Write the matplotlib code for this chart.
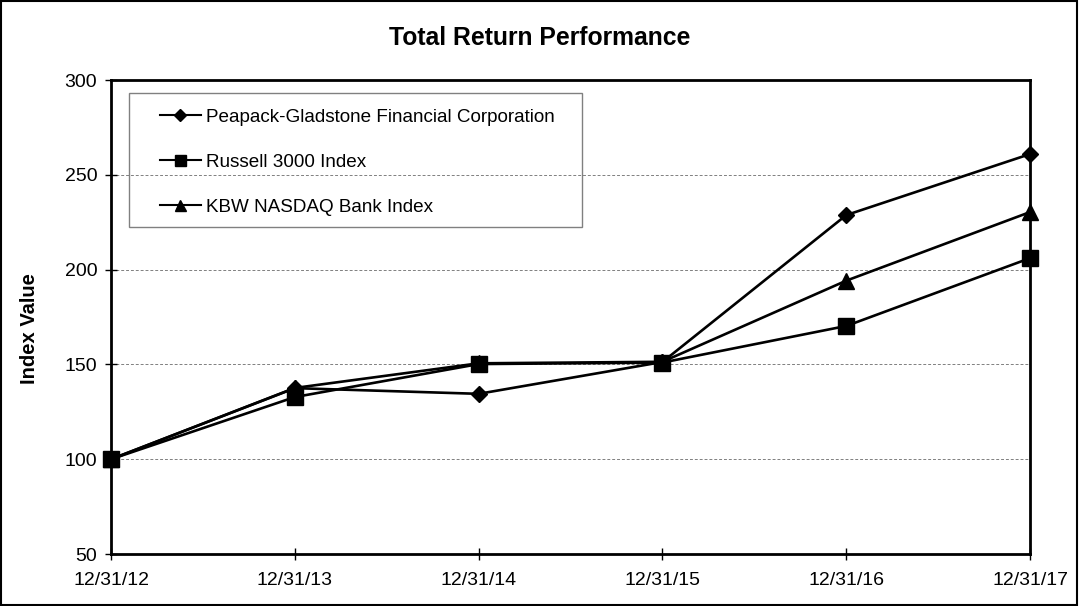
import matplotlib.pyplot as plt
from matplotlib.patches import Rectangle

plt.rcParams["font.family"] = ["Liberation Sans", "DejaVu Sans"]

dates = ["12/31/12", "12/31/13", "12/31/14", "12/31/15", "12/31/16", "12/31/17"]
peapack = [100, 137.5, 134.5, 151.3, 228.8, 261.0]
russell = [100, 132.8, 150.2, 151.0, 170.3, 206.1]
kbw = [100, 137.6, 150.6, 151.4, 194.2, 230.4]

series = [
    ("Peapack-Gladstone Financial Corporation", peapack, "D", 8),
    ("Russell 3000 Index", russell, "s", 11),
    ("KBW NASDAQ Bank Index", kbw, "^", 11),
]

fig = plt.figure(figsize=(10.8, 6.06), dpi=100)
ax = fig.add_axes([0.1028, 0.0858, 0.851, 0.782])

x = list(range(len(dates)))
for label, values, marker, size in series:
    ax.plot(x, values, color="black", linewidth=1.9, marker=marker,
            markersize=size, label=label, clip_on=False, zorder=3)

ax.set_xlim(0, len(dates) - 1)
ax.set_ylim(50, 300)
ax.set_xticks(x)
ax.set_xticklabels(dates)
ax.set_yticks(range(50, 301, 50))
ax.tick_params(direction="inout", length=8, width=1, labelsize=14)
ax.tick_params(axis="x", pad=9)
ax.tick_params(axis="y", pad=6)

for y in (100, 150, 200, 250):
    ax.axhline(y, color="#808080", linestyle=(0, (3, 2)), linewidth=0.7, zorder=1)

for side in ("left", "bottom", "right", "top"):
    ax.spines[side].set_linewidth(2)

ax.set_ylabel("Index Value", fontsize=14.5, fontweight="bold")
ax.yaxis.set_label_coords(-0.0783, 0.475)
fig.text(0.5, 0.938, "Total Return Performance", ha="center", va="center",
         fontsize=17.8, fontweight="bold")

# legend frame drawn separately so the padding matches the original box
ax.add_patch(Rectangle((0.0196, 0.6899), 0.4929, 0.2827, transform=ax.transAxes,
                       fill=False, edgecolor="#808080", linewidth=1, zorder=4))
leg = ax.legend(loc="upper left", bbox_to_anchor=(0.0533, 0.9396),
                borderaxespad=0, borderpad=0, fontsize=13.6, frameon=False,
                handlelength=2.15, handletextpad=0.3, labelspacing=1.46,
                markerscale=0.72)
for line in leg.get_lines():
    line.set_linewidth(1.5)

fig.patches.append(Rectangle((0.001, 0.002), 0.996, 0.996, transform=fig.transFigure,
                             fill=False, edgecolor="black", linewidth=1.5))

fig.savefig("out.png", dpi=100)
